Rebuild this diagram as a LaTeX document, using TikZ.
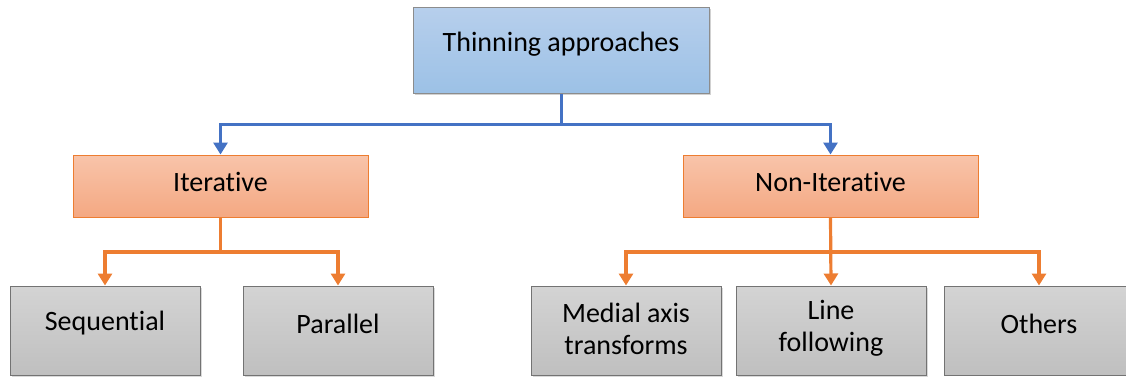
\documentclass[tikz,border=0pt]{standalone}
\usepackage{fontspec}
\setmainfont{Carlito}[RawFeature=-liga]
\usetikzlibrary{arrows.meta,calc}
\begin{document}
\begin{tikzpicture}[x=1pt,y=-1pt,
  txt/.style={font=\fontsize{28}{32}\selectfont, align=center, inner sep=0pt},
  topbox/.style={draw=black!45, line width=1pt, top color={rgb,255:red,183;green,207;blue,236}, bottom color={rgb,255:red,156;green,193;blue,230}, minimum width=296pt, minimum height=86pt, inner sep=0pt},
  orbox/.style={draw={rgb,255:red,237;green,125;blue,49}, line width=1pt, top color={rgb,255:red,248;green,196;blue,170}, bottom color={rgb,255:red,244;green,168;blue,130}, minimum width=295pt, minimum height=62pt, inner sep=0pt},
  grbox/.style={draw=black!55, line width=1pt, top color=black!17, bottom color=black!25, minimum width=190pt, minimum height=89pt, inner sep=0pt},
  blueline/.style={draw={rgb,255:red,68;green,114;blue,196}, line width=3pt, -{Triangle[width=14pt,length=12pt]}},
  orline/.style={draw={rgb,255:red,237;green,125;blue,49}, line width=3.2pt, -{Triangle[width=14pt,length=12pt]}},
  plainor/.style={draw={rgb,255:red,237;green,125;blue,49}, line width=3.2pt},
  plainbl/.style={draw={rgb,255:red,68;green,114;blue,196}, line width=3pt}
]
\useasboundingbox (0,0) rectangle (1126,376);
% shadows
\fill[black!18] (415,9) rectangle (711,95);
\node[topbox] (top) at (561,50) {};
\node[txt] (toptxt) at ([yshift=6pt]top.center) {Thinning approaches};

\node[orbox] (it) at (220.5,186) {};
\node[txt] (ittxt) at ([yshift=4pt]it.center) {Iterative};
\node[orbox] (nit) at (830.5,186) {};
\node[txt] (nittxt) at ([yshift=4pt]nit.center) {Non-Iterative};

\fill[black!15] (12,288) rectangle (202,377);
\node[grbox] (seq) at (105,330.5) {};
\node[txt] (seqtxt) at ([yshift=7pt]seq.center) {Sequential};
\fill[black!15] (245,288) rectangle (435,377);
\node[grbox] (par) at (338,330.5) {};
\node[txt] (partxt) at ([yshift=7pt]par.center) {Parallel};

\fill[black!15] (533,288) rectangle (723,377);
\node[grbox] (med) at (626,330.5) {};
\node[txt] (medtxt) at ([yshift=2pt]med.center) {Medial axis\\transforms};
\fill[black!15] (738,288) rectangle (928,377);
\node[grbox] (lin) at (831,330.5) {};
\node[txt] (lintxt) at ([yshift=2pt]lin.center) {Line\\following};
\node[grbox] (oth) at (1039,330.5) {};
\node[txt] (othtxt) at ([yshift=7pt]oth.center) {Others};

% connectors
\coordinate (bj) at (561,124);
\draw[plainbl] (top.south) -- (bj);
\draw[blueline] (bj) -| (it.north);
\draw[blueline] (bj) -| (nit.north);

\coordinate (ij) at (220.5,252);
\draw[plainor] (it.south) -- (ij);
\draw[orline] (ij) -| (seq.north);
\draw[orline] (ij) -| (par.north);

\coordinate (nj) at (830.5,252);
\draw[orline] (nit.south) -- (lin.north);
\draw[orline] (nj) -| (med.north);
\draw[orline] (nj) -| (oth.north);
\end{tikzpicture}
\end{document}
